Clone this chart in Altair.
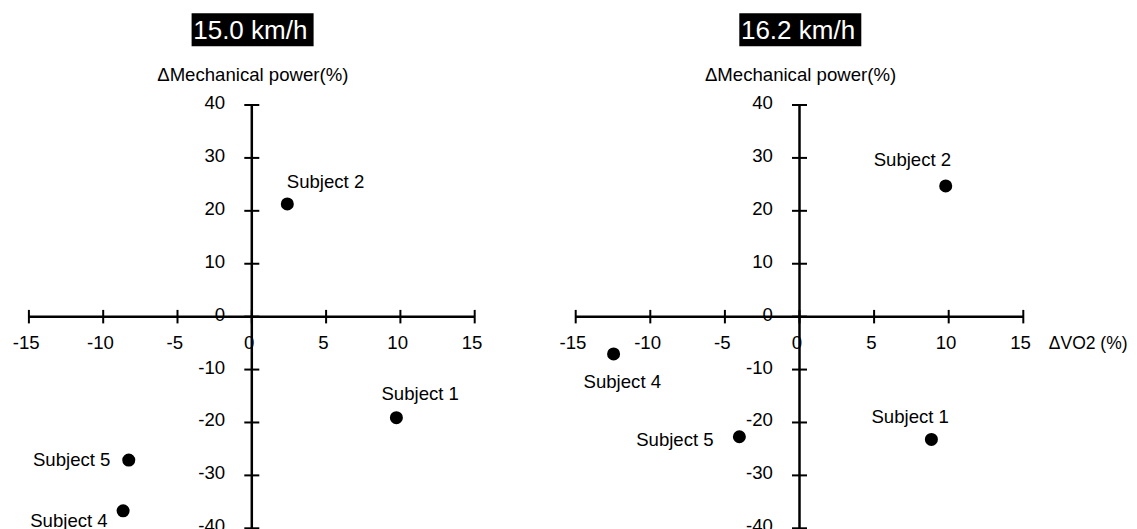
import altair as alt
import pandas as pd

# ---------------- data ----------------
SUBJECTS = ["Subject 1", "Subject 2", "Subject 4", "Subject 5"]
VO2_150 = [9.73, 2.39, -8.66, -8.28]
POWER_150 = [-19.1, 21.3, -36.7, -27.1]
VO2_162 = [8.84, 9.80, -12.46, -4.03]
POWER_162 = [-23.2, 24.7, -7.05, -22.7]
X_TICKS = [-15, -10, -5, 0, 5, 10, 15]
Y_TICKS = [-40, -30, -20, -10, 0, 10, 20, 30, 40]
PANEL_TITLES = ["15.0 km/h", "16.2 km/h"]
Y_TITLE = "ΔMechanical power(%)"
X_TITLE = "ΔVO2 (%)"

# ---------------- styling / layout ----------------
FONT = "Liberation Sans"
FS = 18.6
W, H = 1121, 521
Y_SCALE = alt.Scale(domain=[Y_TICKS[0], Y_TICKS[-1]], range=[520.3, 97], nice=False, zero=False)
X_RANGES = [[20.9, 466.7], [567.7, 1015.3]]
LABEL_STYLE = [
    {"Subject 1": ("center", 23.8, -18), "Subject 2": ("center", 38.2, -16),
     "Subject 4": ("right", -15.4, 16.2), "Subject 5": ("right", -18.3, 6.2)},
    {"Subject 1": ("center", -21.2, -16.4), "Subject 2": ("center", -33.3, -19.8),
     "Subject 4": ("center", 8.7, 33.9), "Subject 5": ("right", -25.7, 9.5)},
]


def panel(i, vo2, power, show_x_title):
    xs = alt.Scale(domain=[X_TICKS[0], X_TICKS[-1]], range=X_RANGES[i], nice=False, zero=False)
    pts = pd.DataFrame({"subject": SUBJECTS, "vo2": vo2, "power": power})
    xt = pd.DataFrame({"v": X_TICKS})
    yt = pd.DataFrame({"v": Y_TICKS})

    def X(f):
        return alt.X(f, scale=xs, axis=None)

    def Y(f):
        return alt.Y(f, scale=Y_SCALE, axis=None)

    X0 = alt.X(datum=0, type="quantitative", scale=xs, axis=None)
    Y0 = alt.Y(datum=0, type="quantitative", scale=Y_SCALE, axis=None)

    layers = []
    # axis lines
    layers.append(alt.Chart(xt).mark_rule(color="black", strokeWidth=2.5).encode(
        x=X("min(v):Q"), x2="max(v):Q", y=Y0))
    layers.append(alt.Chart(yt).mark_rule(color="black", strokeWidth=2.5).encode(
        y=Y("min(v):Q"), y2="max(v):Q", x=X0))
    # ticks
    layers.append(alt.Chart(xt).mark_tick(orient="vertical", size=13.5, thickness=2, color="black", opacity=1).encode(
        x=X("v:Q"), y=Y0))
    layers.append(alt.Chart(yt).mark_tick(orient="horizontal", size=15, thickness=2, color="black", opacity=1).encode(
        y=Y("v:Q"), x=X0))
    # tick labels
    layers.append(alt.Chart(xt).transform_calculate(lab="toString(datum.v)").mark_text(
        font=FONT, fontSize=FS, color="black", align="center", baseline="alphabetic", dx=-2.7, dy=32.3).encode(
        x=X("v:Q"), y=Y0, text="lab:N"))
    layers.append(alt.Chart(yt).transform_calculate(lab="toString(datum.v)").mark_text(
        font=FONT, fontSize=FS, color="black", align="right", baseline="alphabetic", dx=-26.6, dy=4).encode(
        y=Y("v:Q"), x=X0, text="lab:N"))
    # y title
    layers.append(alt.Chart(yt).mark_text(
        font=FONT, fontSize=FS, color="black", align="center", baseline="alphabetic", dx=1, dy=-24,
        text=Y_TITLE).encode(y=Y("max(v):Q"), x=X0))
    # panel title box + text
    layers.append(alt.Chart(yt).mark_rect(color="black", width=122, height=33, yOffset=-75.3, xOffset=0.8).encode(
        y=Y("max(v):Q"), x=X0))
    layers.append(alt.Chart(yt).mark_text(
        font=FONT, fontSize=26, color="white", align="center", baseline="alphabetic", dx=-1.5, dy=-65.7,
        text=PANEL_TITLES[i]).encode(y=Y("max(v):Q"), x=X0))
    # x title
    if show_x_title:
        layers.append(alt.Chart(xt).mark_text(
            font=FONT, fontSize=17.5, color="black", align="left", baseline="alphabetic", dx=25.5, dy=32.4,
            text=X_TITLE).encode(x=X("max(v):Q"), y=Y0))
    # points
    layers.append(alt.Chart(pts).mark_circle(size=170, color="black", opacity=1).encode(
        x=X("vo2:Q"), y=Y("power:Q")))
    # point labels
    for s in SUBJECTS:
        align, dx, dy = LABEL_STYLE[i][s]
        layers.append(alt.Chart(pts).transform_filter(alt.datum.subject == s).mark_text(
            font=FONT, fontSize=FS, color="black", align=align, baseline="alphabetic", dx=dx, dy=dy).encode(
            x=X("vo2:Q"), y=Y("power:Q"), text="subject:N"))
    return alt.layer(*layers)


chart = alt.layer(
    panel(0, VO2_150, POWER_150, False),
    panel(1, VO2_162, POWER_162, True),
).resolve_scale(x="independent").properties(
    width=W, height=H, padding=0, autosize=alt.AutoSizeParams(type="none"),
    background="white",
).configure_view(stroke=None)

chart.save("out.html", embed_options={"renderer": "svg", "actions": False})
